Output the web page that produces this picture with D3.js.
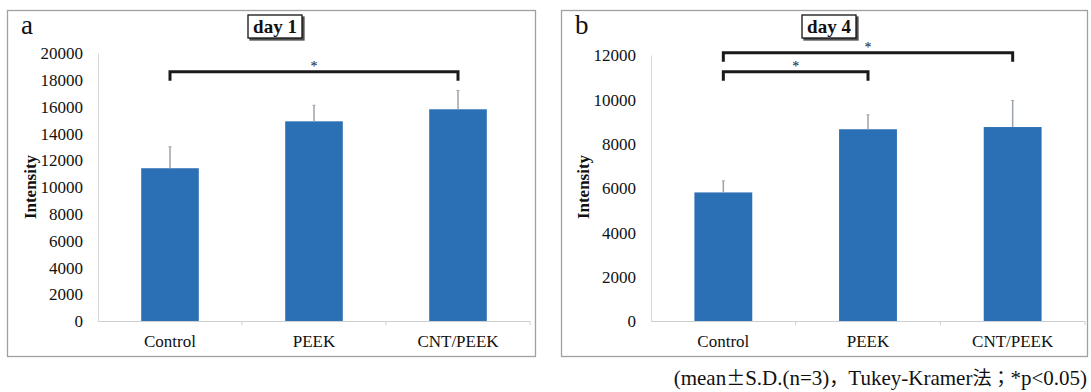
<!DOCTYPE html>
<html>
<head>
<meta charset="utf-8">
<script src="https://cdn.jsdelivr.net/npm/d3@7"></script>
<style>
  body { margin: 0; background: #fff; }
  svg { display: block; }
  text { font-family: "Liberation Serif", serif; fill: #111; }
</style>
</head>
<body>
<svg id="chart" width="1091" height="392"></svg>
<script>
// data
var categories = ['Control', 'PEEK', 'CNT/PEEK']
var day1Mean = [11400, 14900, 15800]
var day1SD = [1600, 1200, 1400]
var day4Mean = [5800, 8650, 8750]
var day4SD = [520, 650, 1200]
var day1Ticks = [0, 2000, 4000, 6000, 8000, 10000, 12000, 14000, 16000, 18000, 20000]
var day4Ticks = [0, 2000, 4000, 6000, 8000, 10000, 12000]
// significance brackets: [from index, to index, level]
var day1Sig = [[0, 2, 18600]]
var day4Sig = [[0, 2, 12100], [0, 1, 11250]]

var svg = d3.select('#chart')
var barColor = '#2b6fb5'
var cjk = '"Noto Sans CJK JP", sans-serif'

var defs = svg.append('defs')
var sh = defs.append('filter').attr('id', 'shadow')
    .attr('x', '-10%').attr('y', '-10%').attr('width', '130%').attr('height', '140%')
sh.append('feDropShadow').attr('dx', 2).attr('dy', 2).attr('stdDeviation', 0.5)
    .attr('flood-color', '#333').attr('flood-opacity', 0.85)

function panel(opt) {
    var g = svg.append('g').attr('transform', 'translate(' + opt.x + ',0)')

    // outer frame
    g.append('rect')
        .attr('x', 0.5).attr('y', 10.5)
        .attr('width', opt.w).attr('height', 346)
        .attr('fill', 'none').attr('stroke', '#a0a0a0').attr('stroke-width', 1.3)

    g.append('text').attr('x', 14).attr('y', 34)
        .style('font-size', '27px').text(opt.letter)

    // title box
    var tb = g.append('g').attr('transform', 'translate(' + opt.titleX + ',0)')
    tb.append('rect').attr('x', -27).attr('y', 15).attr('width', 54).attr('height', 23)
        .attr('fill', '#fff').attr('stroke', '#111').attr('stroke-width', 1.3)
        .attr('filter', 'url(#shadow)')
    tb.append('text').attr('x', 0).attr('y', 32.5).attr('text-anchor', 'middle')
        .style('font-size', '19px').style('font-weight', 'bold').text(opt.title)

    var left = opt.axisX, right = opt.right
    var x = d3.scaleBand().domain(categories).range([left, right]).paddingInner(0.6).paddingOuter(0.3)
    var y = d3.scaleLinear().domain([0, opt.max]).range([321, opt.topY])

    // baseline and axis
    g.append('line').attr('x1', left).attr('x2', right).attr('y1', 321.5).attr('y2', 321.5)
        .attr('stroke', '#cfcfcf')
    var ax = g.append('g').attr('transform', 'translate(' + left + ',0)')
        .call(d3.axisLeft(y).tickValues(opt.ticks).tickSize(0).tickPadding(15).tickFormat(d3.format('d')))
    ax.select('.domain').attr('stroke', '#d6d6d6')
    ax.selectAll('text').style('font-size', '17px').style('font-family', '"Liberation Serif", serif')
        .attr('fill', '#111').attr('dy', '0.34em')

    // small ticks along baseline between categories
    g.selectAll('.bt').data(d3.range(1, categories.length + 1)).enter().append('line')
        .attr('x1', function(i) { return left + (right - left) * i / categories.length })
        .attr('x2', function(i) { return left + (right - left) * i / categories.length })
        .attr('y1', 321).attr('y2', 325).attr('stroke', '#cfcfcf')

    g.append('text')
        .attr('transform', 'translate(' + opt.labelX + ',' + 187 + ') rotate(-90)')
        .attr('text-anchor', 'middle')
        .style('font-size', '17px').style('font-weight', 'bold').text('Intensity')

    // bars
    g.selectAll('.bar').data(opt.mean).enter().append('rect')
        .attr('x', function(d, i) { return x(categories[i]) })
        .attr('y', function(d) { return y(d) })
        .attr('width', x.bandwidth())
        .attr('height', function(d) { return y(0) - y(d) })
        .attr('fill', barColor)

    // error bars (upper only)
    g.selectAll('.err').data(opt.mean).enter().append('line')
        .attr('x1', function(d, i) { return x(categories[i]) + x.bandwidth() / 2 })
        .attr('x2', function(d, i) { return x(categories[i]) + x.bandwidth() / 2 })
        .attr('y1', function(d) { return y(d) })
        .attr('y2', function(d, i) { return y(d + opt.sd[i]) })
        .attr('stroke', '#9aa3ad').attr('stroke-width', 1.5)
    g.selectAll('.cap').data(opt.mean).enter().append('line')
        .attr('x1', function(d, i) { return x(categories[i]) + x.bandwidth() / 2 - 1.5 })
        .attr('x2', function(d, i) { return x(categories[i]) + x.bandwidth() / 2 + 1.5 })
        .attr('y1', function(d, i) { return y(d + opt.sd[i]) })
        .attr('y2', function(d, i) { return y(d + opt.sd[i]) })
        .attr('stroke', '#9aa3ad').attr('stroke-width', 1)

    // significance brackets
    opt.sig.forEach(function(s) {
        var x1 = x(categories[s[0]]) + x.bandwidth() / 2
        var x2 = x(categories[s[1]]) + x.bandwidth() / 2
        var yy = y(s[2])
        g.append('path')
            .attr('d', 'M' + x1 + ',' + (yy + 9) + 'V' + yy + 'H' + x2 + 'V' + (yy + 9))
            .attr('fill', 'none').attr('stroke', '#1a1a1a').attr('stroke-width', 3)
        g.append('text').attr('x', (x1 + x2) / 2).attr('y', yy - 0.5)
            .attr('text-anchor', 'middle').attr('fill', '#333')
            .style('font-size', '14px').text('*')
    })

    // category labels
    g.selectAll('.cl').data(categories).enter().append('text')
        .attr('x', function(d) { return x(d) + x.bandwidth() / 2 })
        .attr('y', 347).attr('text-anchor', 'middle')
        .style('font-size', '17px').text(function(d) { return d })
}

panel({ x: 7, w: 528, letter: 'a', title: 'day 1', titleX: 268, axisX: 91, right: 523,
        labelX: 29, max: 20000, topY: 53, ticks: day1Ticks,
        mean: day1Mean, sd: day1SD, sig: day1Sig })
panel({ x: 561, w: 526, letter: 'b', title: 'day 4', titleX: 268, axisX: 90, right: 524,
        labelX: 28, max: 12000, topY: 55, ticks: day4Ticks,
        mean: day4Mean, sd: day4SD, sig: day4Sig })

// footnote, with full-width punctuation as in the original
var note = svg.append('text').attr('x', 1087).attr('y', 385).attr('text-anchor', 'end')
    .style('font-size', '21px')
note.append('tspan').text('(mean')
note.append('tspan').style('font-family', cjk).style('font-size', '19px').text('\u00b1')
note.append('tspan').text('S.D.(n=3)')
note.append('tspan').style('font-family', cjk).style('font-size', '19px').text('\uff0c')
note.append('tspan').text('Tukey-Kramer')
note.append('tspan').style('font-family', cjk).style('font-size', '19px').text('\u6cd5\uff1b')
note.append('tspan').text('*p<0.05)')
</script>
</body>
</html>
